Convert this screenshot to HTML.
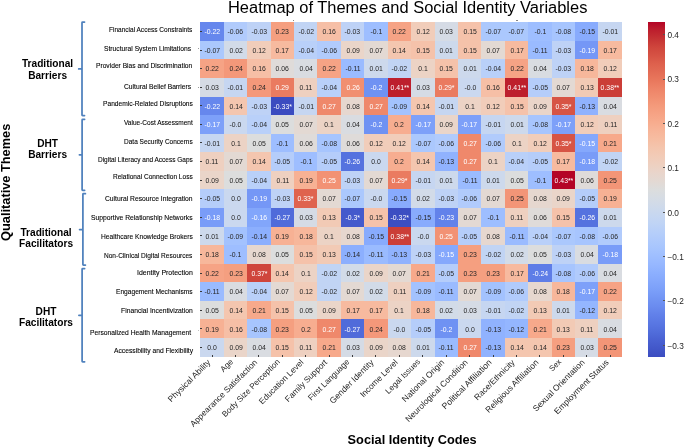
<!DOCTYPE html><html><head><meta charset="utf-8"><style>
*{margin:0;padding:0;box-sizing:border-box}
html,body{width:685px;height:447px;background:#fff;overflow:hidden;position:relative;font-family:"Liberation Sans",sans-serif}
.c{position:absolute;display:flex;align-items:center;justify-content:center;font-size:7.3px;line-height:1;white-space:nowrap;padding-top:0.4px}
.yl{position:absolute;font-size:7.3px;line-height:1;white-space:nowrap;color:#000;-webkit-text-stroke:0.1px #000;transform-origin:0 0}
.xl{position:absolute;font-size:8.5px;line-height:1;white-space:nowrap;color:#262626;transform-origin:100% 0;transform:rotate(-45deg)}
.cat{position:absolute;font-weight:bold;font-size:10.15px;line-height:11.8px;text-align:center;color:#000;width:80px}
.c b{font-weight:normal;transform:scaleX(0.94);display:block}
.tk{position:absolute;background:#3a3a3a}
.cbl{position:absolute;font-size:8.3px;line-height:1;color:#262626;white-space:nowrap}
#w{position:absolute;left:0;top:0;width:685px;height:447px;background:#fff;filter:blur(0.3px)}
</style></head><body><div id="w">

<div style="position:absolute;left:228.0px;top:-0.85px;font-size:16.44px;line-height:1;white-space:nowrap;color:#000">Heatmap of Themes and Social Identity Variables</div>
<div class="c" style="left:200.30px;top:22.20px;width:23.82px;height:18.98px;background:#6687ed;color:#ffffff"><b>-0.22</b></div>
<div class="c" style="left:223.72px;top:22.20px;width:23.82px;height:18.98px;background:#b1cbfc;color:#262626"><b>-0.06</b></div>
<div class="c" style="left:247.14px;top:22.20px;width:23.82px;height:18.98px;background:#bed2f6;color:#262626"><b>-0.03</b></div>
<div class="c" style="left:270.56px;top:22.20px;width:23.82px;height:18.98px;background:#f59f80;color:#262626"><b>0.23</b></div>
<div class="c" style="left:293.98px;top:22.20px;width:23.82px;height:18.98px;background:#c1d4f4;color:#262626"><b>-0.02</b></div>
<div class="c" style="left:317.40px;top:22.20px;width:23.82px;height:18.98px;background:#f6bfa6;color:#262626"><b>0.16</b></div>
<div class="c" style="left:340.82px;top:22.20px;width:23.82px;height:18.98px;background:#bed2f6;color:#262626"><b>-0.03</b></div>
<div class="c" style="left:364.24px;top:22.20px;width:23.82px;height:18.98px;background:#9ebeff;color:#262626"><b>-0.1</b></div>
<div class="c" style="left:387.66px;top:22.20px;width:23.82px;height:18.98px;background:#f6a385;color:#262626"><b>0.22</b></div>
<div class="c" style="left:411.08px;top:22.20px;width:23.82px;height:18.98px;background:#f1cdba;color:#262626"><b>0.12</b></div>
<div class="c" style="left:434.50px;top:22.20px;width:23.82px;height:18.98px;background:#d5dbe5;color:#262626"><b>0.03</b></div>
<div class="c" style="left:457.92px;top:22.20px;width:23.82px;height:18.98px;background:#f5c2aa;color:#262626"><b>0.15</b></div>
<div class="c" style="left:481.34px;top:22.20px;width:23.82px;height:18.98px;background:#abc8fd;color:#262626"><b>-0.07</b></div>
<div class="c" style="left:504.76px;top:22.20px;width:23.82px;height:18.98px;background:#abc8fd;color:#262626"><b>-0.07</b></div>
<div class="c" style="left:528.18px;top:22.20px;width:23.82px;height:18.98px;background:#9ebeff;color:#262626"><b>-0.1</b></div>
<div class="c" style="left:551.60px;top:22.20px;width:23.82px;height:18.98px;background:#a7c5fe;color:#262626"><b>-0.08</b></div>
<div class="c" style="left:575.02px;top:22.20px;width:23.82px;height:18.98px;background:#88abfd;color:#262626"><b>-0.15</b></div>
<div class="c" style="left:598.44px;top:22.20px;width:23.82px;height:18.98px;background:#c6d6f1;color:#262626"><b>-0.01</b></div>
<div class="c" style="left:200.30px;top:40.78px;width:23.82px;height:18.98px;background:#abc8fd;color:#262626"><b>-0.07</b></div>
<div class="c" style="left:223.72px;top:40.78px;width:23.82px;height:18.98px;background:#d2dbe8;color:#262626"><b>0.02</b></div>
<div class="c" style="left:247.14px;top:40.78px;width:23.82px;height:18.98px;background:#f1cdba;color:#262626"><b>0.12</b></div>
<div class="c" style="left:270.56px;top:40.78px;width:23.82px;height:18.98px;background:#f7ba9f;color:#262626"><b>0.17</b></div>
<div class="c" style="left:293.98px;top:40.78px;width:23.82px;height:18.98px;background:#b9d0f9;color:#262626"><b>-0.04</b></div>
<div class="c" style="left:317.40px;top:40.78px;width:23.82px;height:18.98px;background:#b1cbfc;color:#262626"><b>-0.06</b></div>
<div class="c" style="left:340.82px;top:40.78px;width:23.82px;height:18.98px;background:#ead5c9;color:#262626"><b>0.09</b></div>
<div class="c" style="left:364.24px;top:40.78px;width:23.82px;height:18.98px;background:#e3d9d3;color:#262626"><b>0.07</b></div>
<div class="c" style="left:387.66px;top:40.78px;width:23.82px;height:18.98px;background:#f4c6af;color:#262626"><b>0.14</b></div>
<div class="c" style="left:411.08px;top:40.78px;width:23.82px;height:18.98px;background:#f5c2aa;color:#262626"><b>0.15</b></div>
<div class="c" style="left:434.50px;top:40.78px;width:23.82px;height:18.98px;background:#cdd9ec;color:#262626"><b>0.01</b></div>
<div class="c" style="left:457.92px;top:40.78px;width:23.82px;height:18.98px;background:#f5c2aa;color:#262626"><b>0.15</b></div>
<div class="c" style="left:481.34px;top:40.78px;width:23.82px;height:18.98px;background:#e3d9d3;color:#262626"><b>0.07</b></div>
<div class="c" style="left:504.76px;top:40.78px;width:23.82px;height:18.98px;background:#f7ba9f;color:#262626"><b>0.17</b></div>
<div class="c" style="left:528.18px;top:40.78px;width:23.82px;height:18.98px;background:#9abbff;color:#262626"><b>-0.11</b></div>
<div class="c" style="left:551.60px;top:40.78px;width:23.82px;height:18.98px;background:#bed2f6;color:#262626"><b>-0.03</b></div>
<div class="c" style="left:575.02px;top:40.78px;width:23.82px;height:18.98px;background:#7597f6;color:#ffffff"><b>-0.19</b></div>
<div class="c" style="left:598.44px;top:40.78px;width:23.82px;height:18.98px;background:#f7ba9f;color:#262626"><b>0.17</b></div>
<div class="c" style="left:200.30px;top:59.36px;width:23.82px;height:18.98px;background:#f6a385;color:#262626"><b>0.22</b></div>
<div class="c" style="left:223.72px;top:59.36px;width:23.82px;height:18.98px;background:#f4987a;color:#262626"><b>0.24</b></div>
<div class="c" style="left:247.14px;top:59.36px;width:23.82px;height:18.98px;background:#f6bfa6;color:#262626"><b>0.16</b></div>
<div class="c" style="left:270.56px;top:59.36px;width:23.82px;height:18.98px;background:#dfdbd9;color:#262626"><b>0.06</b></div>
<div class="c" style="left:293.98px;top:59.36px;width:23.82px;height:18.98px;background:#d9dce1;color:#262626"><b>0.04</b></div>
<div class="c" style="left:317.40px;top:59.36px;width:23.82px;height:18.98px;background:#f6a385;color:#262626"><b>0.22</b></div>
<div class="c" style="left:340.82px;top:59.36px;width:23.82px;height:18.98px;background:#9abbff;color:#262626"><b>-0.11</b></div>
<div class="c" style="left:364.24px;top:59.36px;width:23.82px;height:18.98px;background:#cdd9ec;color:#262626"><b>0.01</b></div>
<div class="c" style="left:387.66px;top:59.36px;width:23.82px;height:18.98px;background:#c1d4f4;color:#262626"><b>-0.02</b></div>
<div class="c" style="left:411.08px;top:59.36px;width:23.82px;height:18.98px;background:#ecd3c5;color:#262626"><b>0.1</b></div>
<div class="c" style="left:434.50px;top:59.36px;width:23.82px;height:18.98px;background:#f5c2aa;color:#262626"><b>0.15</b></div>
<div class="c" style="left:457.92px;top:59.36px;width:23.82px;height:18.98px;background:#cdd9ec;color:#262626"><b>0.01</b></div>
<div class="c" style="left:481.34px;top:59.36px;width:23.82px;height:18.98px;background:#b9d0f9;color:#262626"><b>-0.04</b></div>
<div class="c" style="left:504.76px;top:59.36px;width:23.82px;height:18.98px;background:#f6a385;color:#262626"><b>0.22</b></div>
<div class="c" style="left:528.18px;top:59.36px;width:23.82px;height:18.98px;background:#d9dce1;color:#262626"><b>0.04</b></div>
<div class="c" style="left:551.60px;top:59.36px;width:23.82px;height:18.98px;background:#bed2f6;color:#262626"><b>-0.03</b></div>
<div class="c" style="left:575.02px;top:59.36px;width:23.82px;height:18.98px;background:#f7b79b;color:#262626"><b>0.18</b></div>
<div class="c" style="left:598.44px;top:59.36px;width:23.82px;height:18.98px;background:#f1cdba;color:#262626"><b>0.12</b></div>
<div class="c" style="left:200.30px;top:77.94px;width:23.82px;height:18.98px;background:#d5dbe5;color:#262626"><b>0.03</b></div>
<div class="c" style="left:223.72px;top:77.94px;width:23.82px;height:18.98px;background:#c6d6f1;color:#262626"><b>-0.01</b></div>
<div class="c" style="left:247.14px;top:77.94px;width:23.82px;height:18.98px;background:#f4987a;color:#262626"><b>0.24</b></div>
<div class="c" style="left:270.56px;top:77.94px;width:23.82px;height:18.98px;background:#ea7b60;color:#ffffff"><b>0.29</b></div>
<div class="c" style="left:293.98px;top:77.94px;width:23.82px;height:18.98px;background:#eed0c0;color:#262626"><b>0.11</b></div>
<div class="c" style="left:317.40px;top:77.94px;width:23.82px;height:18.98px;background:#b9d0f9;color:#262626"><b>-0.04</b></div>
<div class="c" style="left:340.82px;top:77.94px;width:23.82px;height:18.98px;background:#f18f71;color:#ffffff"><b>0.26</b></div>
<div class="c" style="left:364.24px;top:77.94px;width:23.82px;height:18.98px;background:#6f92f3;color:#ffffff"><b>-0.2</b></div>
<div class="c" style="left:387.66px;top:77.94px;width:23.82px;height:18.98px;background:#bd1f2d;color:#ffffff"><b>0.41**</b></div>
<div class="c" style="left:411.08px;top:77.94px;width:23.82px;height:18.98px;background:#d5dbe5;color:#262626"><b>0.03</b></div>
<div class="c" style="left:434.50px;top:77.94px;width:23.82px;height:18.98px;background:#ea7b60;color:#ffffff"><b>0.29*</b></div>
<div class="c" style="left:457.92px;top:77.94px;width:23.82px;height:18.98px;background:#cad8ef;color:#262626"><b>-0.0</b></div>
<div class="c" style="left:481.34px;top:77.94px;width:23.82px;height:18.98px;background:#f6bfa6;color:#262626"><b>0.16</b></div>
<div class="c" style="left:504.76px;top:77.94px;width:23.82px;height:18.98px;background:#bd1f2d;color:#ffffff"><b>0.41**</b></div>
<div class="c" style="left:528.18px;top:77.94px;width:23.82px;height:18.98px;background:#b5cdfa;color:#262626"><b>-0.05</b></div>
<div class="c" style="left:551.60px;top:77.94px;width:23.82px;height:18.98px;background:#e3d9d3;color:#262626"><b>0.07</b></div>
<div class="c" style="left:575.02px;top:77.94px;width:23.82px;height:18.98px;background:#f2cab5;color:#262626"><b>0.13</b></div>
<div class="c" style="left:598.44px;top:77.94px;width:23.82px;height:18.98px;background:#cb3e38;color:#ffffff"><b>0.38**</b></div>
<div class="c" style="left:200.30px;top:96.52px;width:23.82px;height:18.98px;background:#6687ed;color:#ffffff"><b>-0.22</b></div>
<div class="c" style="left:223.72px;top:96.52px;width:23.82px;height:18.98px;background:#f4c6af;color:#262626"><b>0.14</b></div>
<div class="c" style="left:247.14px;top:96.52px;width:23.82px;height:18.98px;background:#bed2f6;color:#262626"><b>-0.03</b></div>
<div class="c" style="left:270.56px;top:96.52px;width:23.82px;height:18.98px;background:#3b4cc0;color:#ffffff"><b>-0.33*</b></div>
<div class="c" style="left:293.98px;top:96.52px;width:23.82px;height:18.98px;background:#c6d6f1;color:#262626"><b>-0.01</b></div>
<div class="c" style="left:317.40px;top:96.52px;width:23.82px;height:18.98px;background:#ef886b;color:#ffffff"><b>0.27</b></div>
<div class="c" style="left:340.82px;top:96.52px;width:23.82px;height:18.98px;background:#e6d7cf;color:#262626"><b>0.08</b></div>
<div class="c" style="left:364.24px;top:96.52px;width:23.82px;height:18.98px;background:#ef886b;color:#ffffff"><b>0.27</b></div>
<div class="c" style="left:387.66px;top:96.52px;width:23.82px;height:18.98px;background:#a3c2fe;color:#262626"><b>-0.09</b></div>
<div class="c" style="left:411.08px;top:96.52px;width:23.82px;height:18.98px;background:#f4c6af;color:#262626"><b>0.14</b></div>
<div class="c" style="left:434.50px;top:96.52px;width:23.82px;height:18.98px;background:#c6d6f1;color:#262626"><b>-0.01</b></div>
<div class="c" style="left:457.92px;top:96.52px;width:23.82px;height:18.98px;background:#ecd3c5;color:#262626"><b>0.1</b></div>
<div class="c" style="left:481.34px;top:96.52px;width:23.82px;height:18.98px;background:#f1cdba;color:#262626"><b>0.12</b></div>
<div class="c" style="left:504.76px;top:96.52px;width:23.82px;height:18.98px;background:#f5c2aa;color:#262626"><b>0.15</b></div>
<div class="c" style="left:528.18px;top:96.52px;width:23.82px;height:18.98px;background:#ead5c9;color:#262626"><b>0.09</b></div>
<div class="c" style="left:551.60px;top:96.52px;width:23.82px;height:18.98px;background:#d75445;color:#ffffff"><b>0.35*</b></div>
<div class="c" style="left:575.02px;top:96.52px;width:23.82px;height:18.98px;background:#90b2fe;color:#262626"><b>-0.13</b></div>
<div class="c" style="left:598.44px;top:96.52px;width:23.82px;height:18.98px;background:#d9dce1;color:#262626"><b>0.04</b></div>
<div class="c" style="left:200.30px;top:115.10px;width:23.82px;height:18.98px;background:#7da0f9;color:#ffffff"><b>-0.17</b></div>
<div class="c" style="left:223.72px;top:115.10px;width:23.82px;height:18.98px;background:#cad8ef;color:#262626"><b>-0.0</b></div>
<div class="c" style="left:247.14px;top:115.10px;width:23.82px;height:18.98px;background:#b9d0f9;color:#262626"><b>-0.04</b></div>
<div class="c" style="left:270.56px;top:115.10px;width:23.82px;height:18.98px;background:#dcdddd;color:#262626"><b>0.05</b></div>
<div class="c" style="left:293.98px;top:115.10px;width:23.82px;height:18.98px;background:#e3d9d3;color:#262626"><b>0.07</b></div>
<div class="c" style="left:317.40px;top:115.10px;width:23.82px;height:18.98px;background:#ecd3c5;color:#262626"><b>0.1</b></div>
<div class="c" style="left:340.82px;top:115.10px;width:23.82px;height:18.98px;background:#d9dce1;color:#262626"><b>0.04</b></div>
<div class="c" style="left:364.24px;top:115.10px;width:23.82px;height:18.98px;background:#6f92f3;color:#ffffff"><b>-0.2</b></div>
<div class="c" style="left:387.66px;top:115.10px;width:23.82px;height:18.98px;background:#f7ad90;color:#262626"><b>0.2</b></div>
<div class="c" style="left:411.08px;top:115.10px;width:23.82px;height:18.98px;background:#7da0f9;color:#ffffff"><b>-0.17</b></div>
<div class="c" style="left:434.50px;top:115.10px;width:23.82px;height:18.98px;background:#ead5c9;color:#262626"><b>0.09</b></div>
<div class="c" style="left:457.92px;top:115.10px;width:23.82px;height:18.98px;background:#7da0f9;color:#ffffff"><b>-0.17</b></div>
<div class="c" style="left:481.34px;top:115.10px;width:23.82px;height:18.98px;background:#c6d6f1;color:#262626"><b>-0.01</b></div>
<div class="c" style="left:504.76px;top:115.10px;width:23.82px;height:18.98px;background:#cdd9ec;color:#262626"><b>0.01</b></div>
<div class="c" style="left:528.18px;top:115.10px;width:23.82px;height:18.98px;background:#a7c5fe;color:#262626"><b>-0.08</b></div>
<div class="c" style="left:551.60px;top:115.10px;width:23.82px;height:18.98px;background:#7da0f9;color:#ffffff"><b>-0.17</b></div>
<div class="c" style="left:575.02px;top:115.10px;width:23.82px;height:18.98px;background:#f1cdba;color:#262626"><b>0.12</b></div>
<div class="c" style="left:598.44px;top:115.10px;width:23.82px;height:18.98px;background:#eed0c0;color:#262626"><b>0.11</b></div>
<div class="c" style="left:200.30px;top:133.68px;width:23.82px;height:18.98px;background:#c6d6f1;color:#262626"><b>-0.01</b></div>
<div class="c" style="left:223.72px;top:133.68px;width:23.82px;height:18.98px;background:#ecd3c5;color:#262626"><b>0.1</b></div>
<div class="c" style="left:247.14px;top:133.68px;width:23.82px;height:18.98px;background:#dcdddd;color:#262626"><b>0.05</b></div>
<div class="c" style="left:270.56px;top:133.68px;width:23.82px;height:18.98px;background:#9ebeff;color:#262626"><b>-0.1</b></div>
<div class="c" style="left:293.98px;top:133.68px;width:23.82px;height:18.98px;background:#dfdbd9;color:#262626"><b>0.06</b></div>
<div class="c" style="left:317.40px;top:133.68px;width:23.82px;height:18.98px;background:#a7c5fe;color:#262626"><b>-0.08</b></div>
<div class="c" style="left:340.82px;top:133.68px;width:23.82px;height:18.98px;background:#dfdbd9;color:#262626"><b>0.06</b></div>
<div class="c" style="left:364.24px;top:133.68px;width:23.82px;height:18.98px;background:#f1cdba;color:#262626"><b>0.12</b></div>
<div class="c" style="left:387.66px;top:133.68px;width:23.82px;height:18.98px;background:#f1cdba;color:#262626"><b>0.12</b></div>
<div class="c" style="left:411.08px;top:133.68px;width:23.82px;height:18.98px;background:#abc8fd;color:#262626"><b>-0.07</b></div>
<div class="c" style="left:434.50px;top:133.68px;width:23.82px;height:18.98px;background:#b1cbfc;color:#262626"><b>-0.06</b></div>
<div class="c" style="left:457.92px;top:133.68px;width:23.82px;height:18.98px;background:#ef886b;color:#ffffff"><b>0.27</b></div>
<div class="c" style="left:481.34px;top:133.68px;width:23.82px;height:18.98px;background:#b1cbfc;color:#262626"><b>-0.06</b></div>
<div class="c" style="left:504.76px;top:133.68px;width:23.82px;height:18.98px;background:#ecd3c5;color:#262626"><b>0.1</b></div>
<div class="c" style="left:528.18px;top:133.68px;width:23.82px;height:18.98px;background:#f1cdba;color:#262626"><b>0.12</b></div>
<div class="c" style="left:551.60px;top:133.68px;width:23.82px;height:18.98px;background:#d75445;color:#ffffff"><b>0.35*</b></div>
<div class="c" style="left:575.02px;top:133.68px;width:23.82px;height:18.98px;background:#85a8fc;color:#ffffff"><b>-0.15</b></div>
<div class="c" style="left:598.44px;top:133.68px;width:23.82px;height:18.98px;background:#f7a98b;color:#262626"><b>0.21</b></div>
<div class="c" style="left:200.30px;top:152.26px;width:23.82px;height:18.98px;background:#eed0c0;color:#262626"><b>0.11</b></div>
<div class="c" style="left:223.72px;top:152.26px;width:23.82px;height:18.98px;background:#e3d9d3;color:#262626"><b>0.07</b></div>
<div class="c" style="left:247.14px;top:152.26px;width:23.82px;height:18.98px;background:#f4c6af;color:#262626"><b>0.14</b></div>
<div class="c" style="left:270.56px;top:152.26px;width:23.82px;height:18.98px;background:#b5cdfa;color:#262626"><b>-0.05</b></div>
<div class="c" style="left:293.98px;top:152.26px;width:23.82px;height:18.98px;background:#9ebeff;color:#262626"><b>-0.1</b></div>
<div class="c" style="left:317.40px;top:152.26px;width:23.82px;height:18.98px;background:#b5cdfa;color:#262626"><b>-0.05</b></div>
<div class="c" style="left:340.82px;top:152.26px;width:23.82px;height:18.98px;background:#5572df;color:#ffffff"><b>-0.26</b></div>
<div class="c" style="left:364.24px;top:152.26px;width:23.82px;height:18.98px;background:#cad8ef;color:#262626"><b>0.0</b></div>
<div class="c" style="left:387.66px;top:152.26px;width:23.82px;height:18.98px;background:#f7ad90;color:#262626"><b>0.2</b></div>
<div class="c" style="left:411.08px;top:152.26px;width:23.82px;height:18.98px;background:#f4c6af;color:#262626"><b>0.14</b></div>
<div class="c" style="left:434.50px;top:152.26px;width:23.82px;height:18.98px;background:#90b2fe;color:#262626"><b>-0.13</b></div>
<div class="c" style="left:457.92px;top:152.26px;width:23.82px;height:18.98px;background:#ef886b;color:#ffffff"><b>0.27</b></div>
<div class="c" style="left:481.34px;top:152.26px;width:23.82px;height:18.98px;background:#ecd3c5;color:#262626"><b>0.1</b></div>
<div class="c" style="left:504.76px;top:152.26px;width:23.82px;height:18.98px;background:#b9d0f9;color:#262626"><b>-0.04</b></div>
<div class="c" style="left:528.18px;top:152.26px;width:23.82px;height:18.98px;background:#b5cdfa;color:#262626"><b>-0.05</b></div>
<div class="c" style="left:551.60px;top:152.26px;width:23.82px;height:18.98px;background:#f7ba9f;color:#262626"><b>0.17</b></div>
<div class="c" style="left:575.02px;top:152.26px;width:23.82px;height:18.98px;background:#799cf8;color:#ffffff"><b>-0.18</b></div>
<div class="c" style="left:598.44px;top:152.26px;width:23.82px;height:18.98px;background:#c1d4f4;color:#262626"><b>-0.02</b></div>
<div class="c" style="left:200.30px;top:170.84px;width:23.82px;height:18.98px;background:#ead5c9;color:#262626"><b>0.09</b></div>
<div class="c" style="left:223.72px;top:170.84px;width:23.82px;height:18.98px;background:#dcdddd;color:#262626"><b>0.05</b></div>
<div class="c" style="left:247.14px;top:170.84px;width:23.82px;height:18.98px;background:#b9d0f9;color:#262626"><b>-0.04</b></div>
<div class="c" style="left:270.56px;top:170.84px;width:23.82px;height:18.98px;background:#eed0c0;color:#262626"><b>0.11</b></div>
<div class="c" style="left:293.98px;top:170.84px;width:23.82px;height:18.98px;background:#f7b194;color:#262626"><b>0.19</b></div>
<div class="c" style="left:317.40px;top:170.84px;width:23.82px;height:18.98px;background:#f29274;color:#ffffff"><b>0.25</b></div>
<div class="c" style="left:340.82px;top:170.84px;width:23.82px;height:18.98px;background:#bed2f6;color:#262626"><b>-0.03</b></div>
<div class="c" style="left:364.24px;top:170.84px;width:23.82px;height:18.98px;background:#e3d9d3;color:#262626"><b>0.07</b></div>
<div class="c" style="left:387.66px;top:170.84px;width:23.82px;height:18.98px;background:#ea7b60;color:#ffffff"><b>0.29*</b></div>
<div class="c" style="left:411.08px;top:170.84px;width:23.82px;height:18.98px;background:#c6d6f1;color:#262626"><b>-0.01</b></div>
<div class="c" style="left:434.50px;top:170.84px;width:23.82px;height:18.98px;background:#cdd9ec;color:#262626"><b>0.01</b></div>
<div class="c" style="left:457.92px;top:170.84px;width:23.82px;height:18.98px;background:#9abbff;color:#262626"><b>-0.11</b></div>
<div class="c" style="left:481.34px;top:170.84px;width:23.82px;height:18.98px;background:#cdd9ec;color:#262626"><b>0.01</b></div>
<div class="c" style="left:504.76px;top:170.84px;width:23.82px;height:18.98px;background:#dcdddd;color:#262626"><b>0.05</b></div>
<div class="c" style="left:528.18px;top:170.84px;width:23.82px;height:18.98px;background:#9ebeff;color:#262626"><b>-0.1</b></div>
<div class="c" style="left:551.60px;top:170.84px;width:23.82px;height:18.98px;background:#b40426;color:#ffffff"><b>0.43**</b></div>
<div class="c" style="left:575.02px;top:170.84px;width:23.82px;height:18.98px;background:#dfdbd9;color:#262626"><b>0.06</b></div>
<div class="c" style="left:598.44px;top:170.84px;width:23.82px;height:18.98px;background:#f39577;color:#262626"><b>0.25</b></div>
<div class="c" style="left:200.30px;top:189.42px;width:23.82px;height:18.98px;background:#b5cdfa;color:#262626"><b>-0.05</b></div>
<div class="c" style="left:223.72px;top:189.42px;width:23.82px;height:18.98px;background:#cad8ef;color:#262626"><b>0.0</b></div>
<div class="c" style="left:247.14px;top:189.42px;width:23.82px;height:18.98px;background:#7597f6;color:#ffffff"><b>-0.19</b></div>
<div class="c" style="left:270.56px;top:189.42px;width:23.82px;height:18.98px;background:#bed2f6;color:#262626"><b>-0.03</b></div>
<div class="c" style="left:293.98px;top:189.42px;width:23.82px;height:18.98px;background:#df634e;color:#ffffff"><b>0.33*</b></div>
<div class="c" style="left:317.40px;top:189.42px;width:23.82px;height:18.98px;background:#e3d9d3;color:#262626"><b>0.07</b></div>
<div class="c" style="left:340.82px;top:189.42px;width:23.82px;height:18.98px;background:#abc8fd;color:#262626"><b>-0.07</b></div>
<div class="c" style="left:364.24px;top:189.42px;width:23.82px;height:18.98px;background:#cad8ef;color:#262626"><b>-0.0</b></div>
<div class="c" style="left:387.66px;top:189.42px;width:23.82px;height:18.98px;background:#88abfd;color:#262626"><b>-0.15</b></div>
<div class="c" style="left:411.08px;top:189.42px;width:23.82px;height:18.98px;background:#d2dbe8;color:#262626"><b>0.02</b></div>
<div class="c" style="left:434.50px;top:189.42px;width:23.82px;height:18.98px;background:#bed2f6;color:#262626"><b>-0.03</b></div>
<div class="c" style="left:457.92px;top:189.42px;width:23.82px;height:18.98px;background:#b1cbfc;color:#262626"><b>-0.06</b></div>
<div class="c" style="left:481.34px;top:189.42px;width:23.82px;height:18.98px;background:#e3d9d3;color:#262626"><b>0.07</b></div>
<div class="c" style="left:504.76px;top:189.42px;width:23.82px;height:18.98px;background:#f39577;color:#262626"><b>0.25</b></div>
<div class="c" style="left:528.18px;top:189.42px;width:23.82px;height:18.98px;background:#e6d7cf;color:#262626"><b>0.08</b></div>
<div class="c" style="left:551.60px;top:189.42px;width:23.82px;height:18.98px;background:#ead5c9;color:#262626"><b>0.09</b></div>
<div class="c" style="left:575.02px;top:189.42px;width:23.82px;height:18.98px;background:#b5cdfa;color:#262626"><b>-0.05</b></div>
<div class="c" style="left:598.44px;top:189.42px;width:23.82px;height:18.98px;background:#f7b194;color:#262626"><b>0.19</b></div>
<div class="c" style="left:200.30px;top:208.00px;width:23.82px;height:18.98px;background:#799cf8;color:#ffffff"><b>-0.18</b></div>
<div class="c" style="left:223.72px;top:208.00px;width:23.82px;height:18.98px;background:#cad8ef;color:#262626"><b>0.0</b></div>
<div class="c" style="left:247.14px;top:208.00px;width:23.82px;height:18.98px;background:#82a6fb;color:#ffffff"><b>-0.16</b></div>
<div class="c" style="left:270.56px;top:208.00px;width:23.82px;height:18.98px;background:#506bda;color:#ffffff"><b>-0.27</b></div>
<div class="c" style="left:293.98px;top:208.00px;width:23.82px;height:18.98px;background:#d5dbe5;color:#262626"><b>0.03</b></div>
<div class="c" style="left:317.40px;top:208.00px;width:23.82px;height:18.98px;background:#f2cab5;color:#262626"><b>0.13</b></div>
<div class="c" style="left:340.82px;top:208.00px;width:23.82px;height:18.98px;background:#445acc;color:#ffffff"><b>-0.3*</b></div>
<div class="c" style="left:364.24px;top:208.00px;width:23.82px;height:18.98px;background:#f5c2aa;color:#262626"><b>0.15</b></div>
<div class="c" style="left:387.66px;top:208.00px;width:23.82px;height:18.98px;background:#3c4ec2;color:#ffffff"><b>-0.32*</b></div>
<div class="c" style="left:411.08px;top:208.00px;width:23.82px;height:18.98px;background:#88abfd;color:#262626"><b>-0.15</b></div>
<div class="c" style="left:434.50px;top:208.00px;width:23.82px;height:18.98px;background:#6282ea;color:#ffffff"><b>-0.23</b></div>
<div class="c" style="left:457.92px;top:208.00px;width:23.82px;height:18.98px;background:#e3d9d3;color:#262626"><b>0.07</b></div>
<div class="c" style="left:481.34px;top:208.00px;width:23.82px;height:18.98px;background:#9ebeff;color:#262626"><b>-0.1</b></div>
<div class="c" style="left:504.76px;top:208.00px;width:23.82px;height:18.98px;background:#eed0c0;color:#262626"><b>0.11</b></div>
<div class="c" style="left:528.18px;top:208.00px;width:23.82px;height:18.98px;background:#dfdbd9;color:#262626"><b>0.06</b></div>
<div class="c" style="left:551.60px;top:208.00px;width:23.82px;height:18.98px;background:#f5c2aa;color:#262626"><b>0.15</b></div>
<div class="c" style="left:575.02px;top:208.00px;width:23.82px;height:18.98px;background:#5572df;color:#ffffff"><b>-0.26</b></div>
<div class="c" style="left:598.44px;top:208.00px;width:23.82px;height:18.98px;background:#cdd9ec;color:#262626"><b>0.01</b></div>
<div class="c" style="left:200.30px;top:226.58px;width:23.82px;height:18.98px;background:#cdd9ec;color:#262626"><b>0.01</b></div>
<div class="c" style="left:223.72px;top:226.58px;width:23.82px;height:18.98px;background:#a3c2fe;color:#262626"><b>-0.09</b></div>
<div class="c" style="left:247.14px;top:226.58px;width:23.82px;height:18.98px;background:#8caffe;color:#262626"><b>-0.14</b></div>
<div class="c" style="left:270.56px;top:226.58px;width:23.82px;height:18.98px;background:#f7b194;color:#262626"><b>0.19</b></div>
<div class="c" style="left:293.98px;top:226.58px;width:23.82px;height:18.98px;background:#f7b79b;color:#262626"><b>0.18</b></div>
<div class="c" style="left:317.40px;top:226.58px;width:23.82px;height:18.98px;background:#ecd3c5;color:#262626"><b>0.1</b></div>
<div class="c" style="left:340.82px;top:226.58px;width:23.82px;height:18.98px;background:#e6d7cf;color:#262626"><b>0.08</b></div>
<div class="c" style="left:364.24px;top:226.58px;width:23.82px;height:18.98px;background:#88abfd;color:#262626"><b>-0.15</b></div>
<div class="c" style="left:387.66px;top:226.58px;width:23.82px;height:18.98px;background:#cb3e38;color:#ffffff"><b>0.38**</b></div>
<div class="c" style="left:411.08px;top:226.58px;width:23.82px;height:18.98px;background:#cad8ef;color:#262626"><b>-0.0</b></div>
<div class="c" style="left:434.50px;top:226.58px;width:23.82px;height:18.98px;background:#f29274;color:#ffffff"><b>0.25</b></div>
<div class="c" style="left:457.92px;top:226.58px;width:23.82px;height:18.98px;background:#b5cdfa;color:#262626"><b>-0.05</b></div>
<div class="c" style="left:481.34px;top:226.58px;width:23.82px;height:18.98px;background:#e6d7cf;color:#262626"><b>0.08</b></div>
<div class="c" style="left:504.76px;top:226.58px;width:23.82px;height:18.98px;background:#9abbff;color:#262626"><b>-0.11</b></div>
<div class="c" style="left:528.18px;top:226.58px;width:23.82px;height:18.98px;background:#b9d0f9;color:#262626"><b>-0.04</b></div>
<div class="c" style="left:551.60px;top:226.58px;width:23.82px;height:18.98px;background:#abc8fd;color:#262626"><b>-0.07</b></div>
<div class="c" style="left:575.02px;top:226.58px;width:23.82px;height:18.98px;background:#a7c5fe;color:#262626"><b>-0.08</b></div>
<div class="c" style="left:598.44px;top:226.58px;width:23.82px;height:18.98px;background:#b1cbfc;color:#262626"><b>-0.06</b></div>
<div class="c" style="left:200.30px;top:245.16px;width:23.82px;height:18.98px;background:#f7b79b;color:#262626"><b>0.18</b></div>
<div class="c" style="left:223.72px;top:245.16px;width:23.82px;height:18.98px;background:#9ebeff;color:#262626"><b>-0.1</b></div>
<div class="c" style="left:247.14px;top:245.16px;width:23.82px;height:18.98px;background:#e6d7cf;color:#262626"><b>0.08</b></div>
<div class="c" style="left:270.56px;top:245.16px;width:23.82px;height:18.98px;background:#dcdddd;color:#262626"><b>0.05</b></div>
<div class="c" style="left:293.98px;top:245.16px;width:23.82px;height:18.98px;background:#f5c2aa;color:#262626"><b>0.15</b></div>
<div class="c" style="left:317.40px;top:245.16px;width:23.82px;height:18.98px;background:#f2cab5;color:#262626"><b>0.13</b></div>
<div class="c" style="left:340.82px;top:245.16px;width:23.82px;height:18.98px;background:#8caffe;color:#262626"><b>-0.14</b></div>
<div class="c" style="left:364.24px;top:245.16px;width:23.82px;height:18.98px;background:#9abbff;color:#262626"><b>-0.11</b></div>
<div class="c" style="left:387.66px;top:245.16px;width:23.82px;height:18.98px;background:#90b2fe;color:#262626"><b>-0.13</b></div>
<div class="c" style="left:411.08px;top:245.16px;width:23.82px;height:18.98px;background:#bed2f6;color:#262626"><b>-0.03</b></div>
<div class="c" style="left:434.50px;top:245.16px;width:23.82px;height:18.98px;background:#85a8fc;color:#ffffff"><b>-0.15</b></div>
<div class="c" style="left:457.92px;top:245.16px;width:23.82px;height:18.98px;background:#f59f80;color:#262626"><b>0.23</b></div>
<div class="c" style="left:481.34px;top:245.16px;width:23.82px;height:18.98px;background:#c1d4f4;color:#262626"><b>-0.02</b></div>
<div class="c" style="left:504.76px;top:245.16px;width:23.82px;height:18.98px;background:#d2dbe8;color:#262626"><b>0.02</b></div>
<div class="c" style="left:528.18px;top:245.16px;width:23.82px;height:18.98px;background:#dcdddd;color:#262626"><b>0.05</b></div>
<div class="c" style="left:551.60px;top:245.16px;width:23.82px;height:18.98px;background:#bed2f6;color:#262626"><b>-0.03</b></div>
<div class="c" style="left:575.02px;top:245.16px;width:23.82px;height:18.98px;background:#d9dce1;color:#262626"><b>0.04</b></div>
<div class="c" style="left:598.44px;top:245.16px;width:23.82px;height:18.98px;background:#799cf8;color:#ffffff"><b>-0.18</b></div>
<div class="c" style="left:200.30px;top:263.74px;width:23.82px;height:18.98px;background:#f6a385;color:#262626"><b>0.22</b></div>
<div class="c" style="left:223.72px;top:263.74px;width:23.82px;height:18.98px;background:#f59f80;color:#262626"><b>0.23</b></div>
<div class="c" style="left:247.14px;top:263.74px;width:23.82px;height:18.98px;background:#cf453c;color:#ffffff"><b>0.37*</b></div>
<div class="c" style="left:270.56px;top:263.74px;width:23.82px;height:18.98px;background:#f4c6af;color:#262626"><b>0.14</b></div>
<div class="c" style="left:293.98px;top:263.74px;width:23.82px;height:18.98px;background:#ecd3c5;color:#262626"><b>0.1</b></div>
<div class="c" style="left:317.40px;top:263.74px;width:23.82px;height:18.98px;background:#c1d4f4;color:#262626"><b>-0.02</b></div>
<div class="c" style="left:340.82px;top:263.74px;width:23.82px;height:18.98px;background:#d2dbe8;color:#262626"><b>0.02</b></div>
<div class="c" style="left:364.24px;top:263.74px;width:23.82px;height:18.98px;background:#ead5c9;color:#262626"><b>0.09</b></div>
<div class="c" style="left:387.66px;top:263.74px;width:23.82px;height:18.98px;background:#e3d9d3;color:#262626"><b>0.07</b></div>
<div class="c" style="left:411.08px;top:263.74px;width:23.82px;height:18.98px;background:#f7a98b;color:#262626"><b>0.21</b></div>
<div class="c" style="left:434.50px;top:263.74px;width:23.82px;height:18.98px;background:#b5cdfa;color:#262626"><b>-0.05</b></div>
<div class="c" style="left:457.92px;top:263.74px;width:23.82px;height:18.98px;background:#f59f80;color:#262626"><b>0.23</b></div>
<div class="c" style="left:481.34px;top:263.74px;width:23.82px;height:18.98px;background:#f59f80;color:#262626"><b>0.23</b></div>
<div class="c" style="left:504.76px;top:263.74px;width:23.82px;height:18.98px;background:#f7ba9f;color:#262626"><b>0.17</b></div>
<div class="c" style="left:528.18px;top:263.74px;width:23.82px;height:18.98px;background:#5e7de7;color:#ffffff"><b>-0.24</b></div>
<div class="c" style="left:551.60px;top:263.74px;width:23.82px;height:18.98px;background:#a7c5fe;color:#262626"><b>-0.08</b></div>
<div class="c" style="left:575.02px;top:263.74px;width:23.82px;height:18.98px;background:#b1cbfc;color:#262626"><b>-0.06</b></div>
<div class="c" style="left:598.44px;top:263.74px;width:23.82px;height:18.98px;background:#d9dce1;color:#262626"><b>0.04</b></div>
<div class="c" style="left:200.30px;top:282.32px;width:23.82px;height:18.98px;background:#9abbff;color:#262626"><b>-0.11</b></div>
<div class="c" style="left:223.72px;top:282.32px;width:23.82px;height:18.98px;background:#d9dce1;color:#262626"><b>0.04</b></div>
<div class="c" style="left:247.14px;top:282.32px;width:23.82px;height:18.98px;background:#b9d0f9;color:#262626"><b>-0.04</b></div>
<div class="c" style="left:270.56px;top:282.32px;width:23.82px;height:18.98px;background:#e3d9d3;color:#262626"><b>0.07</b></div>
<div class="c" style="left:293.98px;top:282.32px;width:23.82px;height:18.98px;background:#f1cdba;color:#262626"><b>0.12</b></div>
<div class="c" style="left:317.40px;top:282.32px;width:23.82px;height:18.98px;background:#c1d4f4;color:#262626"><b>-0.02</b></div>
<div class="c" style="left:340.82px;top:282.32px;width:23.82px;height:18.98px;background:#e3d9d3;color:#262626"><b>0.07</b></div>
<div class="c" style="left:364.24px;top:282.32px;width:23.82px;height:18.98px;background:#d2dbe8;color:#262626"><b>0.02</b></div>
<div class="c" style="left:387.66px;top:282.32px;width:23.82px;height:18.98px;background:#eed0c0;color:#262626"><b>0.11</b></div>
<div class="c" style="left:411.08px;top:282.32px;width:23.82px;height:18.98px;background:#a3c2fe;color:#262626"><b>-0.09</b></div>
<div class="c" style="left:434.50px;top:282.32px;width:23.82px;height:18.98px;background:#9abbff;color:#262626"><b>-0.11</b></div>
<div class="c" style="left:457.92px;top:282.32px;width:23.82px;height:18.98px;background:#e3d9d3;color:#262626"><b>0.07</b></div>
<div class="c" style="left:481.34px;top:282.32px;width:23.82px;height:18.98px;background:#a3c2fe;color:#262626"><b>-0.09</b></div>
<div class="c" style="left:504.76px;top:282.32px;width:23.82px;height:18.98px;background:#b1cbfc;color:#262626"><b>-0.06</b></div>
<div class="c" style="left:528.18px;top:282.32px;width:23.82px;height:18.98px;background:#e6d7cf;color:#262626"><b>0.08</b></div>
<div class="c" style="left:551.60px;top:282.32px;width:23.82px;height:18.98px;background:#f7b79b;color:#262626"><b>0.18</b></div>
<div class="c" style="left:575.02px;top:282.32px;width:23.82px;height:18.98px;background:#7da0f9;color:#ffffff"><b>-0.17</b></div>
<div class="c" style="left:598.44px;top:282.32px;width:23.82px;height:18.98px;background:#f6a385;color:#262626"><b>0.22</b></div>
<div class="c" style="left:200.30px;top:300.90px;width:23.82px;height:18.98px;background:#dcdddd;color:#262626"><b>0.05</b></div>
<div class="c" style="left:223.72px;top:300.90px;width:23.82px;height:18.98px;background:#f4c6af;color:#262626"><b>0.14</b></div>
<div class="c" style="left:247.14px;top:300.90px;width:23.82px;height:18.98px;background:#f7a98b;color:#262626"><b>0.21</b></div>
<div class="c" style="left:270.56px;top:300.90px;width:23.82px;height:18.98px;background:#f5c2aa;color:#262626"><b>0.15</b></div>
<div class="c" style="left:293.98px;top:300.90px;width:23.82px;height:18.98px;background:#dcdddd;color:#262626"><b>0.05</b></div>
<div class="c" style="left:317.40px;top:300.90px;width:23.82px;height:18.98px;background:#ead5c9;color:#262626"><b>0.09</b></div>
<div class="c" style="left:340.82px;top:300.90px;width:23.82px;height:18.98px;background:#f7ba9f;color:#262626"><b>0.17</b></div>
<div class="c" style="left:364.24px;top:300.90px;width:23.82px;height:18.98px;background:#f7ba9f;color:#262626"><b>0.17</b></div>
<div class="c" style="left:387.66px;top:300.90px;width:23.82px;height:18.98px;background:#ecd3c5;color:#262626"><b>0.1</b></div>
<div class="c" style="left:411.08px;top:300.90px;width:23.82px;height:18.98px;background:#f7b79b;color:#262626"><b>0.18</b></div>
<div class="c" style="left:434.50px;top:300.90px;width:23.82px;height:18.98px;background:#d2dbe8;color:#262626"><b>0.02</b></div>
<div class="c" style="left:457.92px;top:300.90px;width:23.82px;height:18.98px;background:#d5dbe5;color:#262626"><b>0.03</b></div>
<div class="c" style="left:481.34px;top:300.90px;width:23.82px;height:18.98px;background:#c6d6f1;color:#262626"><b>-0.01</b></div>
<div class="c" style="left:504.76px;top:300.90px;width:23.82px;height:18.98px;background:#c1d4f4;color:#262626"><b>-0.02</b></div>
<div class="c" style="left:528.18px;top:300.90px;width:23.82px;height:18.98px;background:#f2cab5;color:#262626"><b>0.13</b></div>
<div class="c" style="left:551.60px;top:300.90px;width:23.82px;height:18.98px;background:#cdd9ec;color:#262626"><b>0.01</b></div>
<div class="c" style="left:575.02px;top:300.90px;width:23.82px;height:18.98px;background:#94b6ff;color:#262626"><b>-0.12</b></div>
<div class="c" style="left:598.44px;top:300.90px;width:23.82px;height:18.98px;background:#f1cdba;color:#262626"><b>0.12</b></div>
<div class="c" style="left:200.30px;top:319.48px;width:23.82px;height:18.98px;background:#f7b194;color:#262626"><b>0.19</b></div>
<div class="c" style="left:223.72px;top:319.48px;width:23.82px;height:18.98px;background:#f6bfa6;color:#262626"><b>0.16</b></div>
<div class="c" style="left:247.14px;top:319.48px;width:23.82px;height:18.98px;background:#a7c5fe;color:#262626"><b>-0.08</b></div>
<div class="c" style="left:270.56px;top:319.48px;width:23.82px;height:18.98px;background:#f59f80;color:#262626"><b>0.23</b></div>
<div class="c" style="left:293.98px;top:319.48px;width:23.82px;height:18.98px;background:#f7ad90;color:#262626"><b>0.2</b></div>
<div class="c" style="left:317.40px;top:319.48px;width:23.82px;height:18.98px;background:#ef886b;color:#ffffff"><b>0.27</b></div>
<div class="c" style="left:340.82px;top:319.48px;width:23.82px;height:18.98px;background:#506bda;color:#ffffff"><b>-0.27</b></div>
<div class="c" style="left:364.24px;top:319.48px;width:23.82px;height:18.98px;background:#f4987a;color:#262626"><b>0.24</b></div>
<div class="c" style="left:387.66px;top:319.48px;width:23.82px;height:18.98px;background:#cad8ef;color:#262626"><b>-0.0</b></div>
<div class="c" style="left:411.08px;top:319.48px;width:23.82px;height:18.98px;background:#b5cdfa;color:#262626"><b>-0.05</b></div>
<div class="c" style="left:434.50px;top:319.48px;width:23.82px;height:18.98px;background:#6f92f3;color:#ffffff"><b>-0.2</b></div>
<div class="c" style="left:457.92px;top:319.48px;width:23.82px;height:18.98px;background:#cad8ef;color:#262626"><b>0.0</b></div>
<div class="c" style="left:481.34px;top:319.48px;width:23.82px;height:18.98px;background:#90b2fe;color:#262626"><b>-0.13</b></div>
<div class="c" style="left:504.76px;top:319.48px;width:23.82px;height:18.98px;background:#94b6ff;color:#262626"><b>-0.12</b></div>
<div class="c" style="left:528.18px;top:319.48px;width:23.82px;height:18.98px;background:#f7a98b;color:#262626"><b>0.21</b></div>
<div class="c" style="left:551.60px;top:319.48px;width:23.82px;height:18.98px;background:#f2cab5;color:#262626"><b>0.13</b></div>
<div class="c" style="left:575.02px;top:319.48px;width:23.82px;height:18.98px;background:#eed0c0;color:#262626"><b>0.11</b></div>
<div class="c" style="left:598.44px;top:319.48px;width:23.82px;height:18.98px;background:#d9dce1;color:#262626"><b>0.04</b></div>
<div class="c" style="left:200.30px;top:338.06px;width:23.82px;height:18.98px;background:#cad8ef;color:#262626"><b>0.0</b></div>
<div class="c" style="left:223.72px;top:338.06px;width:23.82px;height:18.98px;background:#ead5c9;color:#262626"><b>0.09</b></div>
<div class="c" style="left:247.14px;top:338.06px;width:23.82px;height:18.98px;background:#d9dce1;color:#262626"><b>0.04</b></div>
<div class="c" style="left:270.56px;top:338.06px;width:23.82px;height:18.98px;background:#f5c2aa;color:#262626"><b>0.15</b></div>
<div class="c" style="left:293.98px;top:338.06px;width:23.82px;height:18.98px;background:#eed0c0;color:#262626"><b>0.11</b></div>
<div class="c" style="left:317.40px;top:338.06px;width:23.82px;height:18.98px;background:#f7a98b;color:#262626"><b>0.21</b></div>
<div class="c" style="left:340.82px;top:338.06px;width:23.82px;height:18.98px;background:#d5dbe5;color:#262626"><b>0.03</b></div>
<div class="c" style="left:364.24px;top:338.06px;width:23.82px;height:18.98px;background:#ead5c9;color:#262626"><b>0.09</b></div>
<div class="c" style="left:387.66px;top:338.06px;width:23.82px;height:18.98px;background:#e6d7cf;color:#262626"><b>0.08</b></div>
<div class="c" style="left:411.08px;top:338.06px;width:23.82px;height:18.98px;background:#cdd9ec;color:#262626"><b>0.01</b></div>
<div class="c" style="left:434.50px;top:338.06px;width:23.82px;height:18.98px;background:#9abbff;color:#262626"><b>-0.11</b></div>
<div class="c" style="left:457.92px;top:338.06px;width:23.82px;height:18.98px;background:#ef886b;color:#ffffff"><b>0.27</b></div>
<div class="c" style="left:481.34px;top:338.06px;width:23.82px;height:18.98px;background:#90b2fe;color:#262626"><b>-0.13</b></div>
<div class="c" style="left:504.76px;top:338.06px;width:23.82px;height:18.98px;background:#f4c6af;color:#262626"><b>0.14</b></div>
<div class="c" style="left:528.18px;top:338.06px;width:23.82px;height:18.98px;background:#f4c6af;color:#262626"><b>0.14</b></div>
<div class="c" style="left:551.60px;top:338.06px;width:23.82px;height:18.98px;background:#f59f80;color:#262626"><b>0.23</b></div>
<div class="c" style="left:575.02px;top:338.06px;width:23.82px;height:18.98px;background:#d5dbe5;color:#262626"><b>0.03</b></div>
<div class="c" style="left:598.44px;top:338.06px;width:23.82px;height:18.98px;background:#f39577;color:#262626"><b>0.25</b></div>
<div class="tk" style="left:200.3px;top:30.99px;width:2px;height:1px"></div>
<div class="tk" style="left:200.3px;top:49.57px;width:2px;height:1px"></div>
<div class="tk" style="left:200.3px;top:68.15px;width:2px;height:1px"></div>
<div class="tk" style="left:200.3px;top:86.73px;width:2px;height:1px"></div>
<div class="tk" style="left:200.3px;top:105.31px;width:2px;height:1px"></div>
<div class="tk" style="left:200.3px;top:123.89px;width:2px;height:1px"></div>
<div class="tk" style="left:200.3px;top:142.47px;width:2px;height:1px"></div>
<div class="tk" style="left:200.3px;top:161.05px;width:2px;height:1px"></div>
<div class="tk" style="left:200.3px;top:179.63px;width:2px;height:1px"></div>
<div class="tk" style="left:200.3px;top:198.21px;width:2px;height:1px"></div>
<div class="tk" style="left:200.3px;top:216.79px;width:2px;height:1px"></div>
<div class="tk" style="left:200.3px;top:235.37px;width:2px;height:1px"></div>
<div class="tk" style="left:200.3px;top:253.95px;width:2px;height:1px"></div>
<div class="tk" style="left:200.3px;top:272.53px;width:2px;height:1px"></div>
<div class="tk" style="left:200.3px;top:291.11px;width:2px;height:1px"></div>
<div class="tk" style="left:200.3px;top:309.69px;width:2px;height:1px"></div>
<div class="tk" style="left:200.3px;top:328.27px;width:2px;height:1px"></div>
<div class="tk" style="left:200.3px;top:346.85px;width:2px;height:1px"></div>
<div class="tk" style="left:211.51px;top:354.64px;width:1px;height:2px"></div>
<div class="tk" style="left:234.93px;top:354.64px;width:1px;height:2px"></div>
<div class="tk" style="left:258.35px;top:354.64px;width:1px;height:2px"></div>
<div class="tk" style="left:281.77px;top:354.64px;width:1px;height:2px"></div>
<div class="tk" style="left:305.19px;top:354.64px;width:1px;height:2px"></div>
<div class="tk" style="left:328.61px;top:354.64px;width:1px;height:2px"></div>
<div class="tk" style="left:352.03px;top:354.64px;width:1px;height:2px"></div>
<div class="tk" style="left:375.45px;top:354.64px;width:1px;height:2px"></div>
<div class="tk" style="left:398.87px;top:354.64px;width:1px;height:2px"></div>
<div class="tk" style="left:422.29px;top:354.64px;width:1px;height:2px"></div>
<div class="tk" style="left:445.71px;top:354.64px;width:1px;height:2px"></div>
<div class="tk" style="left:469.13px;top:354.64px;width:1px;height:2px"></div>
<div class="tk" style="left:492.55px;top:354.64px;width:1px;height:2px"></div>
<div class="tk" style="left:515.97px;top:354.64px;width:1px;height:2px"></div>
<div class="tk" style="left:539.39px;top:354.64px;width:1px;height:2px"></div>
<div class="tk" style="left:562.81px;top:354.64px;width:1px;height:2px"></div>
<div class="tk" style="left:586.23px;top:354.64px;width:1px;height:2px"></div>
<div class="tk" style="left:609.65px;top:354.64px;width:1px;height:2px"></div>
<div class="yl" style="left:108.70px;top:25.82px;transform:scaleX(0.893)">Financial Access Constraints</div>
<div class="yl" style="left:104.10px;top:44.92px;transform:scaleX(0.921)">Structural System Limitations</div>
<div class="yl" style="left:95.90px;top:61.62px;transform:scaleX(0.913)">Provider Bias and Discrimination</div>
<div class="yl" style="left:123.90px;top:83.02px;transform:scaleX(0.920)">Cultural Belief Barriers</div>
<div class="yl" style="left:102.70px;top:100.22px;transform:scaleX(0.912)">Pandemic-Related Disruptions</div>
<div class="yl" style="left:123.80px;top:118.62px;transform:scaleX(0.894)">Value-Cost Assessment</div>
<div class="yl" style="left:123.80px;top:137.92px;transform:scaleX(0.892)">Data Security Concerns</div>
<div class="yl" style="left:97.80px;top:156.42px;transform:scaleX(0.888)">Digital Literacy and Access Gaps</div>
<div class="yl" style="left:112.90px;top:173.22px;transform:scaleX(0.897)">Relational Connection Loss</div>
<div class="yl" style="left:105.00px;top:195.22px;transform:scaleX(0.923)">Cultural Resource Integration</div>
<div class="yl" style="left:91.10px;top:214.12px;transform:scaleX(0.927)">Supportive Relationship Networks</div>
<div class="yl" style="left:100.80px;top:233.32px;transform:scaleX(0.912)">Healthcare Knowledge Brokers</div>
<div class="yl" style="left:104.20px;top:251.72px;transform:scaleX(0.897)">Non-Clinical Digital Resources</div>
<div class="yl" style="left:136.80px;top:269.02px;transform:scaleX(0.955)">Identity Protection</div>
<div class="yl" style="left:116.00px;top:288.42px;transform:scaleX(0.908)">Engagement Mechanisms</div>
<div class="yl" style="left:120.80px;top:306.92px;transform:scaleX(0.926)">Financial Incentivization</div>
<div class="yl" style="left:89.90px;top:328.72px;transform:scaleX(0.919)">Personalized Health Management</div>
<div class="yl" style="left:113.60px;top:346.72px;transform:scaleX(0.920)">Accessibility and Flexibility</div>
<div class="xl" style="right:479.2px;top:357.6px;font-size:8.47px">Physical Ability</div>
<div class="xl" style="right:455.8px;top:357.6px;font-size:8.10px">Age</div>
<div class="xl" style="right:432.3px;top:357.6px;font-size:8.38px">Appearance Satisfaction</div>
<div class="xl" style="right:408.9px;top:357.6px;font-size:8.18px">Body Size Perception</div>
<div class="xl" style="right:385.5px;top:357.6px;font-size:8.31px">Education Level</div>
<div class="xl" style="right:362.1px;top:357.6px;font-size:8.30px">Family Support</div>
<div class="xl" style="right:338.7px;top:357.6px;font-size:8.22px">First Language</div>
<div class="xl" style="right:315.2px;top:357.6px;font-size:8.54px">Gender Identity</div>
<div class="xl" style="right:291.8px;top:357.6px;font-size:8.31px">Income Level</div>
<div class="xl" style="right:268.4px;top:357.6px;font-size:8.10px">Legal Issues</div>
<div class="xl" style="right:245.0px;top:357.6px;font-size:8.46px">National Origin</div>
<div class="xl" style="right:221.6px;top:357.6px;font-size:8.39px">Neurological Condition</div>
<div class="xl" style="right:198.1px;top:357.6px;font-size:8.60px">Political Affiliation</div>
<div class="xl" style="right:174.7px;top:357.6px;font-size:8.36px">Race/Ethnicity</div>
<div class="xl" style="right:151.3px;top:357.6px;font-size:8.50px">Religious Affiliation</div>
<div class="xl" style="right:127.9px;top:357.6px;font-size:7.89px">Sex</div>
<div class="xl" style="right:104.5px;top:357.6px;font-size:8.43px">Sexual Orientation</div>
<div class="xl" style="right:81.0px;top:357.6px;font-size:8.46px">Employment Status</div>
<div style="position:absolute;left:647.9px;top:22.2px;width:17px;height:334.44px;background:linear-gradient(to bottom,#b40426 0.0%,#bd1f2d 2.5%,#c53334 5.0%,#cf453c 7.5%,#d65244 10.0%,#de614d 12.5%,#e36c55 15.0%,#e9785d 17.5%,#ee8468 20.0%,#f18f71 22.5%,#f49a7b 25.0%,#f6a385 27.5%,#f7ac8e 30.0%,#f7b599 32.5%,#f6bda2 35.0%,#f4c5ad 37.5%,#f2cbb7 40.0%,#eed0c0 42.5%,#e9d5cb 45.0%,#e3d9d3 47.5%,#dcdddd 50.0%,#d6dce4 52.5%,#cfdaea 55.0%,#c7d7f0 57.5%,#c0d4f5 60.0%,#b7cff9 62.5%,#afcafc 65.0%,#a7c5fe 67.5%,#9ebeff 70.0%,#96b7ff 72.5%,#8caffe 75.0%,#84a7fc 77.5%,#7b9ff9 80.0%,#7295f4 82.5%,#6a8bef 85.0%,#6180e9 87.5%,#5977e3 90.0%,#516ddb 92.5%,#4961d2 95.0%,#4257c9 97.5%,#3b4cc0 100.0%)"></div>
<div class="tk" style="left:662.8px;top:34.13px;width:2.2px;height:1px;background:#555"></div>
<div class="cbl" style="left:667.4px;top:31.03px">0.4</div>
<div class="tk" style="left:662.8px;top:78.51px;width:2.2px;height:1px;background:#555"></div>
<div class="cbl" style="left:667.4px;top:75.41px">0.3</div>
<div class="tk" style="left:662.8px;top:122.90px;width:2.2px;height:1px;background:#555"></div>
<div class="cbl" style="left:667.4px;top:119.80px">0.2</div>
<div class="tk" style="left:662.8px;top:167.28px;width:2.2px;height:1px;background:#555"></div>
<div class="cbl" style="left:667.4px;top:164.18px">0.1</div>
<div class="tk" style="left:662.8px;top:211.67px;width:2.2px;height:1px;background:#555"></div>
<div class="cbl" style="left:667.4px;top:208.57px">0.0</div>
<div class="tk" style="left:662.8px;top:256.05px;width:2.2px;height:1px;background:#555"></div>
<div class="cbl" style="left:667.4px;top:252.95px">−0.1</div>
<div class="tk" style="left:662.8px;top:300.44px;width:2.2px;height:1px;background:#555"></div>
<div class="cbl" style="left:667.4px;top:297.34px">−0.2</div>
<div class="tk" style="left:662.8px;top:344.82px;width:2.2px;height:1px;background:#555"></div>
<div class="cbl" style="left:667.4px;top:341.72px">−0.3</div>
<div style="position:absolute;left:347.6px;top:433.6px;font-size:12.78px;font-weight:bold;line-height:1;white-space:nowrap;color:#000">Social Identity Codes</div>
<div style="position:absolute;left:0px;top:240.8px;font-size:12.8px;font-weight:bold;line-height:1;white-space:nowrap;color:#000;transform-origin:0 0;transform:rotate(-90deg)">Qualitative Themes</div>
<div class="cat" style="left:7.6px;top:58.3px">Traditional<br>Barriers</div>
<div class="cat" style="left:7.6px;top:137.7px">DHT<br>Barriers</div>
<div class="cat" style="left:6.1px;top:226.6px">Traditional<br>Facilitators</div>
<div class="cat" style="left:6.0px;top:305.7px">DHT<br>Facilitators</div>
<svg style="position:absolute;left:0;top:0" width="685" height="447" viewBox="0 0 685 447"><path d="M84.5,22.1 L82.6,22.1 Q82.0,22.1 82.0,22.7 L82.0,114.9 Q82.0,115.5 82.6,115.5 L84.5,115.5 M82.0,68.9 L78.7,68.9" fill="none" stroke="#4f81bd" stroke-width="1.75" stroke-linecap="round" stroke-linejoin="round"/><path d="M84.6,119.3 L82.7,119.3 Q82.1,119.3 82.1,119.9 L82.1,189.7 Q82.1,190.3 82.7,190.3 L84.6,190.3 M82.1,154.8 L79.4,154.8" fill="none" stroke="#4f81bd" stroke-width="1.75" stroke-linecap="round" stroke-linejoin="round"/><path d="M85.4,193.7 L83.5,193.7 Q82.9,193.7 82.9,194.3 L82.9,264.5 Q82.9,265.1 83.5,265.1 L85.4,265.1 M82.9,229.6 L79.6,229.6" fill="none" stroke="#4f81bd" stroke-width="1.75" stroke-linecap="round" stroke-linejoin="round"/><path d="M84.6,268.6 L82.7,268.6 Q82.1,268.6 82.1,269.2 L82.1,361.2 Q82.1,361.8 82.7,361.8 L84.6,361.8 M82.1,315.3 L78.9,315.3" fill="none" stroke="#4f81bd" stroke-width="1.75" stroke-linecap="round" stroke-linejoin="round"/></svg>
<div style="position:absolute;left:293px;top:20px;width:1px;height:1px;background:#333;opacity:0.6"></div>
<div style="position:absolute;left:516px;top:20px;width:1.5px;height:1px;background:#333;opacity:0.6"></div>
<div style="position:absolute;left:197.7px;top:48px;width:1px;height:1px;background:#333;opacity:0.5"></div>
<div style="position:absolute;left:198.4px;top:86.5px;width:1px;height:1px;background:#333;opacity:0.5"></div>
<div style="position:absolute;left:197.5px;top:329.5px;width:1px;height:1px;background:#333;opacity:0.3"></div>
</div></body></html>
